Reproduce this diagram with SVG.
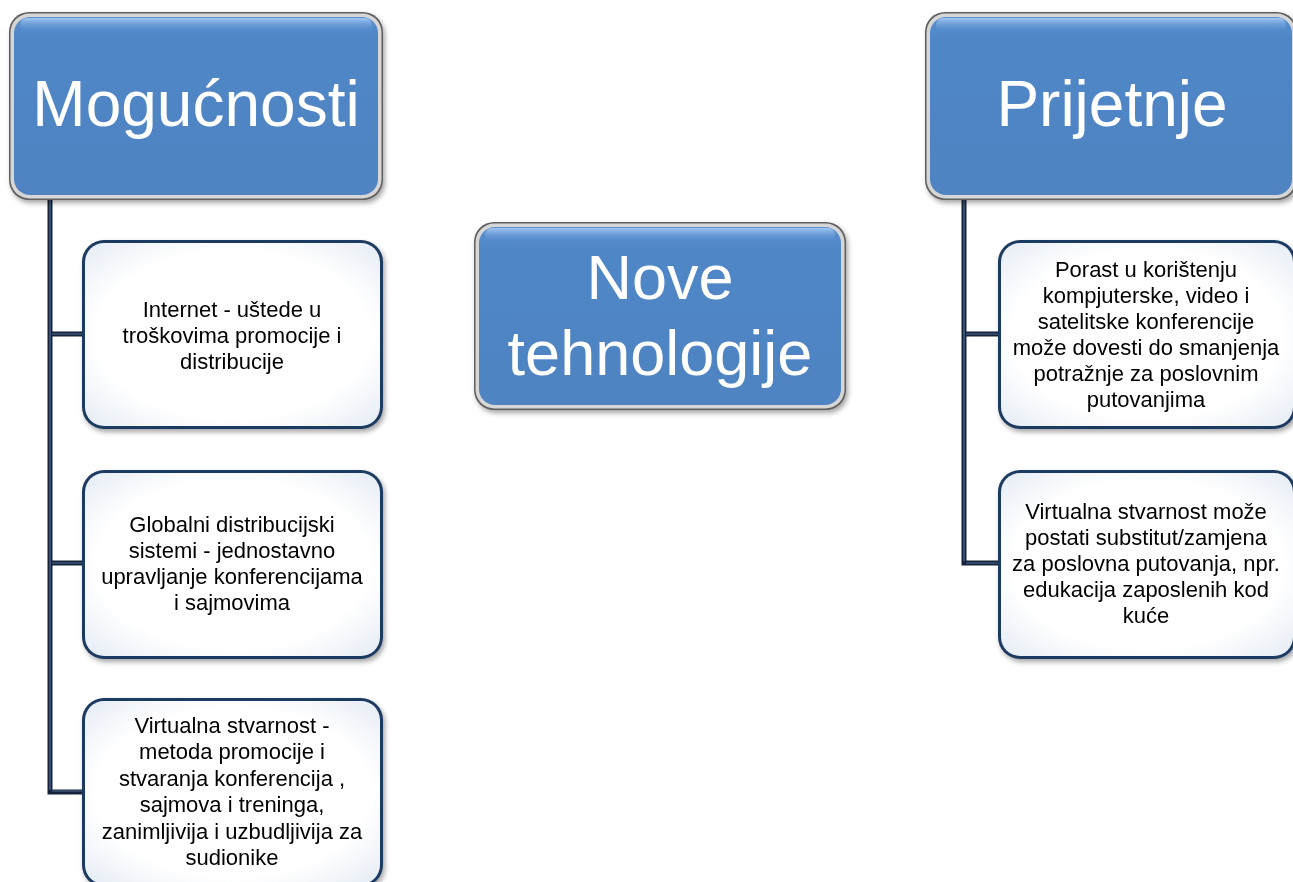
<svg xmlns="http://www.w3.org/2000/svg" width="1293" height="882" viewBox="0 0 1293 882">
<style>
.hdr{font-family:"Liberation Sans",Arial,sans-serif;fill:#fff;text-anchor:middle}
.txt{font-family:"Liberation Sans",Arial,sans-serif;font-size:22px;fill:#000;text-anchor:middle}
.conn{fill:none;stroke:#16233a;stroke-width:5;stroke-linejoin:miter}
.connhi{fill:none;stroke:#4d6c96;stroke-width:1.2}
.bout{fill:#5e5e5e}
.bring{fill:#d6d6d6}
.bin{fill:url(#blueg)}
.hl{fill:url(#hlg)}
.wout{fill:#1f3a60}
.win{fill:url(#wg)}
</style>
<defs>
<linearGradient id="blueg" x1="0" y1="0" x2="0" y2="1">
<stop offset="0" stop-color="#5a8fd0"/>
<stop offset="0.12" stop-color="#5087c6"/>
<stop offset="1" stop-color="#4f83c2"/>
</linearGradient>
<linearGradient id="hlg" x1="0" y1="0" x2="0" y2="1">
<stop offset="0" stop-color="#a9cdf5" stop-opacity="0.9"/>
<stop offset="1" stop-color="#5a8fd0" stop-opacity="0"/>
</linearGradient>
<radialGradient id="wg" cx="0.5" cy="0.5" r="0.75">
<stop offset="0.62" stop-color="#ffffff"/>
<stop offset="0.9" stop-color="#e8eef6"/>
<stop offset="1" stop-color="#7395c2"/>
</radialGradient>
<filter id="sh" x="-10%" y="-10%" width="125%" height="125%">
<feDropShadow dx="2" dy="3" stdDeviation="2.5" flood-color="#000" flood-opacity="0.35"/>
</filter>
</defs>

<g id="connectors">
<path class="conn" d="M50 200 V792 H84 M50 334 H84 M50 563 H84"/>
<path class="connhi" d="M50 200 V790 M52 334 H84 M52 563 H84 M52 791 H84"/>
<path class="conn" d="M964 200 V563 H1000 M964 334 H1000"/>
<path class="connhi" d="M964 200 V561 M966 334 H1000 M966 563 H1000"/>
</g>

<g id="mogucnosti" filter="url(#sh)">
<rect class="bout" x="9" y="12" width="374" height="188" rx="20"/>
<rect class="bring" x="10.5" y="13.5" width="371" height="185" rx="19"/>
<rect class="bin" x="14" y="17" width="364" height="178" rx="16"/>
<rect class="hl" x="20" y="18" width="352" height="14" rx="7"/>
<text class="hdr" x="196" y="126" font-size="64">Mogućnosti</text>
</g>

<g id="nove" filter="url(#sh)">
<rect class="bout" x="474" y="222" width="372" height="188" rx="20"/>
<rect class="bring" x="475.5" y="223.5" width="369" height="185" rx="19"/>
<rect class="bin" x="479" y="227" width="362" height="178" rx="16"/>
<rect class="hl" x="485" y="228" width="350" height="14" rx="7"/>
<text class="hdr" x="660" y="299" font-size="63">Nove</text>
<text class="hdr" x="660" y="375" font-size="63">tehnologije</text>
</g>

<g id="prijetnje" filter="url(#sh)">
<rect class="bout" x="925" y="12" width="372" height="188" rx="20"/>
<rect class="bring" x="926.5" y="13.5" width="369" height="185" rx="19"/>
<rect class="bin" x="930" y="17" width="362" height="178" rx="16"/>
<rect class="hl" x="936" y="18" width="350" height="14" rx="7"/>
<text class="hdr" x="1112" y="126" font-size="64">Prijetnje</text>
</g>

<g id="m1" filter="url(#sh)">
<rect class="wout" x="82" y="240" width="301" height="189" rx="22"/>
<rect class="win" x="85" y="243" width="295" height="183" rx="19"/>
<text class="txt" x="232" y="317">Internet - uštede u</text>
<text class="txt" x="232" y="343">troškovima promocije i</text>
<text class="txt" x="232" y="369">distribucije</text>
</g>

<g id="m2" filter="url(#sh)">
<rect class="wout" x="82" y="470" width="301" height="189" rx="22"/>
<rect class="win" x="85" y="473" width="295" height="183" rx="19"/>
<text class="txt" x="232" y="532">Globalni distribucijski</text>
<text class="txt" x="232" y="558">sistemi - jednostavno</text>
<text class="txt" x="232" y="584">upravljanje konferencijama</text>
<text class="txt" x="232" y="610">i sajmovima</text>
</g>

<g id="m3" filter="url(#sh)">
<rect class="wout" x="82" y="698" width="301" height="189" rx="22"/>
<rect class="win" x="85" y="701" width="295" height="183" rx="19"/>
<text class="txt" x="232" y="733">Virtualna stvarnost -</text>
<text class="txt" x="232" y="759">metoda promocije i</text>
<text class="txt" x="232" y="786">stvaranja konferencija ,</text>
<text class="txt" x="232" y="812">sajmova i treninga,</text>
<text class="txt" x="232" y="839">zanimljivija i uzbudljivija za</text>
<text class="txt" x="232" y="865">sudionike</text>
</g>

<g id="p1" filter="url(#sh)">
<rect class="wout" x="998" y="240" width="298" height="189" rx="22"/>
<rect class="win" x="1001" y="243" width="292" height="183" rx="19"/>
<text class="txt" x="1146" y="277">Porast u korištenju</text>
<text class="txt" x="1146" y="303">kompjuterske, video i</text>
<text class="txt" x="1146" y="329">satelitske konferencije</text>
<text class="txt" x="1146" y="355">može dovesti do smanjenja</text>
<text class="txt" x="1146" y="381">potražnje za poslovnim</text>
<text class="txt" x="1146" y="407">putovanjima</text>
</g>

<g id="p2" filter="url(#sh)">
<rect class="wout" x="998" y="470" width="298" height="189" rx="22"/>
<rect class="win" x="1001" y="473" width="292" height="183" rx="19"/>
<text class="txt" x="1146" y="519">Virtualna stvarnost može</text>
<text class="txt" x="1146" y="545">postati substitut/zamjena</text>
<text class="txt" x="1146" y="571">za poslovna putovanja, npr.</text>
<text class="txt" x="1146" y="597">edukacija zaposlenih kod</text>
<text class="txt" x="1146" y="623">kuće</text>
</g>
</svg>
